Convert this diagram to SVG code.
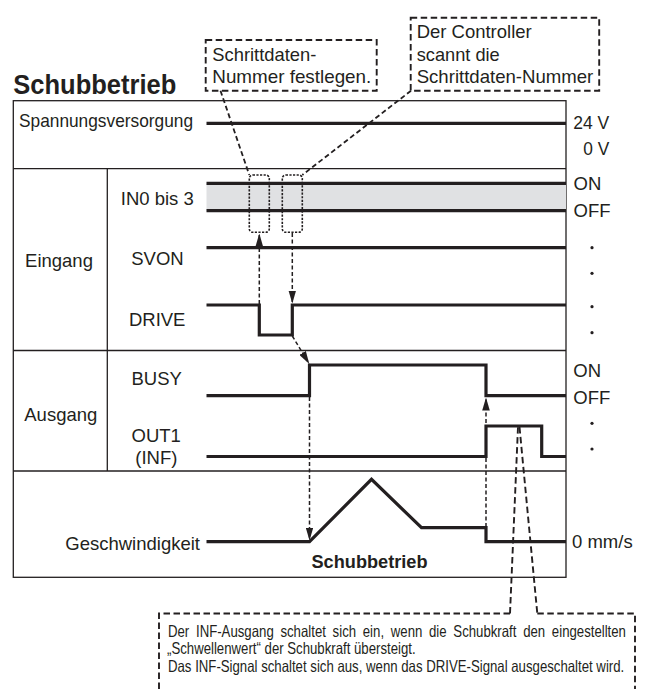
<svg xmlns="http://www.w3.org/2000/svg" width="650" height="689" viewBox="0 0 650 689">
<defs>
<style>
text{font-family:"Liberation Sans",Arial,sans-serif;fill:#231f20}
.l{font-size:18.5px}
.m{text-anchor:middle}
.frame{fill:none;stroke:#231f20;stroke-width:1.3}
.sig{fill:none;stroke:#231f20;stroke-width:3.2;stroke-linejoin:miter;stroke-linecap:butt}
.box{fill:none;stroke:#231f20;stroke-width:1.9;stroke-dasharray:6.5 3.5}
.lead{fill:none;stroke:#231f20;stroke-width:1.8;stroke-dasharray:5 3}
.dot{fill:none;stroke:#231f20;stroke-width:1.6;stroke-dasharray:2.2 1.4}
.arr{fill:none;stroke:#231f20;stroke-width:1.5;stroke-dasharray:4 2.5}
.pt{fill:#231f20}
</style>
<marker id="ah" viewBox="0 0 12 7" refX="12" refY="3.5" markerWidth="13" markerHeight="7.6" markerUnits="userSpaceOnUse" orient="auto"><path d="M0,0L12,3.5L0,7z" fill="#231f20"/></marker>
</defs>
<rect x="0" y="0" width="650" height="689" fill="#ffffff"/>

<g id="title">
<text x="13.3" y="94" font-size="27.5" font-weight="bold" textLength="163" lengthAdjust="spacingAndGlyphs">Schubbetrieb</text>
</g>

<g id="frame">
<rect class="frame" x="13.3" y="100.7" width="552.7" height="476.6"/>
<line class="frame" x1="13.3" y1="168.7" x2="566" y2="168.7"/>
<line class="frame" x1="13.3" y1="350.5" x2="566" y2="350.5"/>
<line class="frame" x1="13.3" y1="471" x2="566" y2="471"/>
<line class="frame" x1="107.3" y1="168.7" x2="107.3" y2="471"/>
</g>

<g id="note-schrittdaten">
<rect class="box" x="205.7" y="40" width="171" height="50.7"/>
<text class="l" x="212.3" y="60.7" textLength="104" lengthAdjust="spacingAndGlyphs">Schrittdaten-</text>
<text class="l" x="212.3" y="83.3" textLength="159" lengthAdjust="spacingAndGlyphs">Nummer festlegen.</text>
</g>

<g id="note-controller">
<rect class="box" x="410.7" y="17.8" width="188.5" height="72.9"/>
<text class="l" x="416.7" y="38.3" textLength="115" lengthAdjust="spacingAndGlyphs">Der Controller</text>
<text class="l" x="416.7" y="61" textLength="83" lengthAdjust="spacingAndGlyphs">scannt die</text>
<text class="l" x="416.7" y="83.3" textLength="176.6" lengthAdjust="spacingAndGlyphs">Schrittdaten-Nummer</text>
</g>

<g id="power">
<text class="l" x="19" y="126.7" textLength="174" lengthAdjust="spacingAndGlyphs">Spannungsversorgung</text>
<path class="sig" d="M206.5,123.3H566"/>
<text class="l" x="573.3" y="129.3" textLength="36" lengthAdjust="spacingAndGlyphs">24 V</text>
<text class="l" x="583.3" y="155" textLength="26" lengthAdjust="spacingAndGlyphs">0 V</text>
</g>

<g id="eingang">
<text class="l m" x="59" y="267.3">Eingang</text>
</g>

<g id="in0">
<rect x="206.5" y="183.3" width="359.5" height="27.4" fill="#e0e1e3"/>
<path class="sig" d="M206.5,183.3H566M206.5,210.7H566"/>
<text class="l m" x="157.3" y="205">IN0 bis 3</text>
<text class="l" x="573.5" y="190">ON</text>
<text class="l" x="573.5" y="217.3">OFF</text>
<rect class="dot" x="249.3" y="175" width="20" height="57.3" rx="3.5"/>
<rect class="dot" x="282.3" y="175" width="20" height="57.3" rx="3.5"/>
</g>

<g id="svon">
<text class="l m" x="157.5" y="265">SVON</text>
<path class="sig" d="M206.5,247.7H566"/>
<circle class="pt" cx="592" cy="247.7" r="1.6"/>
<circle class="pt" cx="592" cy="273.3" r="1.6"/>
</g>

<g id="drive">
<text class="l m" x="157.2" y="325.7">DRIVE</text>
<path class="sig" d="M206.5,305H259.3V335H292.3V305H566"/>
<circle class="pt" cx="592" cy="306.7" r="1.6"/>
<circle class="pt" cx="592" cy="332.7" r="1.6"/>
</g>

<g id="ausgang">
<text class="l m" x="60.8" y="421">Ausgang</text>
</g>

<g id="busy">
<text class="l m" x="156.7" y="385">BUSY</text>
<path class="sig" d="M206.5,395.7H309.5V365H486V395.7H566"/>
<text class="l" x="573.3" y="376.7">ON</text>
<text class="l" x="573.3" y="404">OFF</text>
</g>

<g id="out1">
<text class="l m" x="156.2" y="441.7">OUT1</text>
<text class="l m" x="156.3" y="464">(INF)</text>
<path class="sig" d="M206.5,456.5H486V426H541.7V456.5H566"/>
<circle class="pt" cx="592" cy="423.3" r="1.6"/>
<circle class="pt" cx="592" cy="449" r="1.6"/>
</g>

<g id="speed">
<text class="l" x="200" y="550" text-anchor="end">Geschwindigkeit</text>
<path class="sig" d="M206.5,541.7H309.5L371.5,479.3L421.5,527.7H486V541.7H566"/>
<text class="l" x="572" y="548.3">0 mm/s</text>
<text x="369.5" y="567.7" font-size="18" font-weight="bold" text-anchor="middle" textLength="116" lengthAdjust="spacingAndGlyphs">Schubbetrieb</text>
</g>

<g id="note-inf">
<path class="box" d="M510,613.5H159V700M537.3,613.5H635V700"/>
<text transform="translate(168 636.7) scale(0.8 1)" font-size="16.5" word-spacing="3.8">Der INF-Ausgang schaltet sich ein, wenn die Schubkraft den eingestellten</text>
<text transform="translate(167 654.3) scale(0.8 1)" font-size="16.5">„Schwellenwert“ der Schubkraft übersteigt.</text>
<text transform="translate(168 672) scale(0.8 1)" font-size="16.5">Das INF-Signal schaltet sich aus, wenn das DRIVE-Signal ausgeschaltet wird.</text>
</g>

<g id="connectors">
<path class="lead" d="M220.5,90.7L249.3,175"/>
<path class="lead" d="M411,90.7L302.3,175"/>
<path class="arr" d="M259.3,304V233.5" marker-end="url(#ah)"/>
<path class="arr" d="M292.3,233V303.5" marker-end="url(#ah)"/>
<path class="arr" d="M292.3,336L309.3,364" marker-end="url(#ah)"/>
<path class="arr" d="M309.5,397V540.5" marker-end="url(#ah)"/>
<path class="arr" d="M486,540V397.5" marker-end="url(#ah)"/>
<path class="box" d="M510,613.5L518,427"/>
<path class="box" d="M519.5,427L537.3,613.5"/>
</g>
</svg>
